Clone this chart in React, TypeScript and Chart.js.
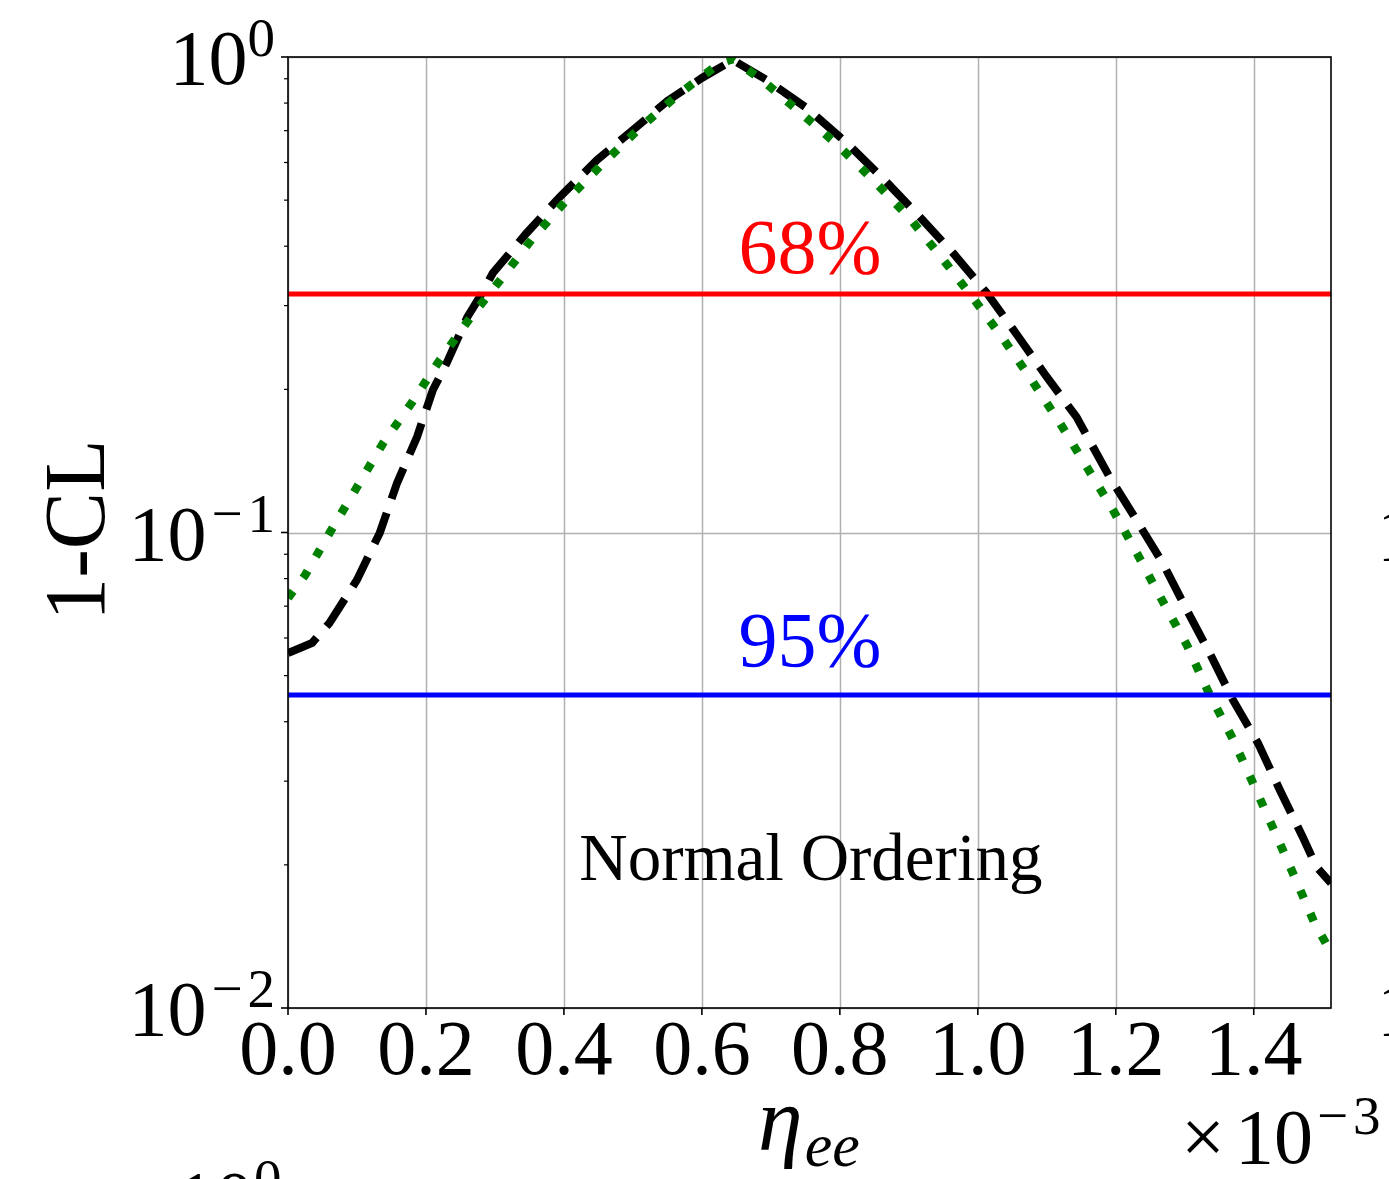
import React, { useEffect, useRef } from "react";
import { Chart, registerables } from "chart.js";

Chart.register(...registerables);

// ---- data (x in units of 1e-3) ----
const xTicks = [0.0, 0.2, 0.4, 0.6, 0.8, 1.0, 1.2, 1.4];
const xTickLabels = ["0.0", "0.2", "0.4", "0.6", "0.8", "1.0", "1.2", "1.4"];
const yMajorTicks = [0.01, 0.1, 1];
const yTickExponents = ["\u22122", "\u22121", "0"];
const yMinorMultipliers = [2, 3, 4, 5, 6, 7, 8, 9];

const blackX = [
  0, 0.035, 0.06, 0.1, 0.133, 0.158, 0.187, 0.21, 0.23, 0.26, 0.278, 0.297, 0.346, 0.394, 0.448, 0.5, 0.55,
  0.6, 0.645, 0.694, 0.752, 0.81, 0.862, 0.916, 0.964, 1.013, 1.057, 1.1, 1.143, 1.191, 1.23, 1.268, 1.303,
  1.336, 1.37, 1.406, 1.438, 1.471, 1.491, 1.512,
];
const blackY = [
  0.0558, 0.0586, 0.0645, 0.0795, 0.0998, 0.127, 0.1588, 0.1994, 0.2272, 0.2839, 0.3129, 0.3513, 0.4265,
  0.5077, 0.6073, 0.7022, 0.8084, 0.9033, 0.985, 0.8946, 0.781, 0.6595, 0.5565, 0.4608, 0.3871, 0.319, 0.2602,
  0.2124, 0.175, 0.1308, 0.1062, 0.0863, 0.0687, 0.0558, 0.0444, 0.0361, 0.0287, 0.0229, 0.0198, 0.0183,
];

const greenX = [
  0, 0.025, 0.061, 0.1, 0.138, 0.18, 0.22, 0.264, 0.31, 0.355, 0.404, 0.457, 0.51, 0.565, 0.626, 0.645, 0.687,
  0.742, 0.797, 0.851, 0.901, 0.948, 0.993, 1.036, 1.078, 1.119, 1.158, 1.196, 1.232, 1.267, 1.303, 1.333,
  1.368, 1.399, 1.428, 1.459, 1.488, 1.512,
];
const greenY = [
  0.0728, 0.0814, 0.1002, 0.1246, 0.1542, 0.188, 0.2305, 0.2826, 0.3428, 0.4163, 0.5004, 0.5985, 0.709, 0.832,
  0.971, 0.99, 0.8946, 0.766, 0.653, 0.546, 0.4585, 0.3778, 0.3113, 0.2565, 0.2093, 0.1699, 0.1373, 0.1115,
  0.0897, 0.0721, 0.058, 0.0466, 0.0372, 0.0297, 0.0239, 0.0189, 0.0151, 0.0131,
];

const cl68 = 0.3173;
const cl95 = 0.0455;
const xMin = 0;
const xMax = 1.512;
const yMin = 0.01;
const yMax = 1;

const W = 1389;
const H = 1179;
const SERIF = "'Liberation Serif', 'Times New Roman', serif";

const toPts = (xs: number[], ys: number[]) => xs.map((x, i) => ({ x, y: ys[i] }));

// draws "10" with a superscript exponent, right edge at rightX (or left edge at leftX)
function drawPow(ctx: CanvasRenderingContext2D, py: number, exp: string, rightX: number | null, leftX?: number) {
  ctx.textAlign = "left";
  ctx.font = `78px ${SERIF}`;
  const bw = ctx.measureText("10").width;
  ctx.font = `55px ${SERIF}`;
  const hasMinus = exp.startsWith("\u2212");
  const digit = hasMinus ? exp.slice(1) : exp;
  const mw = hasMinus ? ctx.measureText("\u2212").width + 5 : 0;
  const dw = ctx.measureText(digit).width;
  const gap = hasMinus ? 5 : 0;
  const total = bw + gap + mw + dw;
  const startX = leftX !== undefined ? leftX : (rightX as number) - total;
  ctx.font = `78px ${SERIF}`;
  ctx.fillText("10", startX, py + 27);
  ctx.font = `55px ${SERIF}`;
  if (hasMinus) ctx.fillText("\u2212", startX + bw + gap, py - 1);
  ctx.fillText(digit, startX + bw + gap + mw, py - 1);
}

const drawPlugin = {
  id: "mplLook",
  beforeDatasetsDraw(chart: any) {
    const { ctx, chartArea: a, scales } = chart;
    const xs = scales.x;
    const ys = scales.y;
    ctx.save();
    ctx.strokeStyle = "#b0b0b0";
    ctx.lineWidth = 1.5;
    xTicks.forEach((t) => {
      const px = Math.round(xs.getPixelForValue(t)) + 0.5;
      ctx.beginPath();
      ctx.moveTo(px, a.top);
      ctx.lineTo(px, a.bottom);
      ctx.stroke();
    });
    yMajorTicks.forEach((t) => {
      const py = Math.round(ys.getPixelForValue(t)) + 0.5;
      ctx.beginPath();
      ctx.moveTo(a.left, py);
      ctx.lineTo(a.right, py);
      ctx.stroke();
    });
    ctx.restore();
  },
  afterDatasetsDraw(chart: any) {
    const { ctx, chartArea: a, scales } = chart;
    const xs = scales.x;
    const ys = scales.y;
    ctx.save();
    // frame
    ctx.strokeStyle = "#000";
    ctx.lineWidth = 1.6;
    ctx.strokeRect(a.left, a.top, a.right - a.left, a.bottom - a.top);

    // x ticks + labels
    ctx.fillStyle = "#000";
    ctx.font = `78px ${SERIF}`;
    ctx.textAlign = "center";
    ctx.textBaseline = "alphabetic";
    xTicks.forEach((t, i) => {
      const px = xs.getPixelForValue(t);
      ctx.beginPath();
      ctx.moveTo(px, a.bottom);
      ctx.lineTo(px, a.bottom + 7);
      ctx.stroke();
      ctx.fillText(xTickLabels[i], px, a.bottom + 66);
    });

    // y ticks
    yMajorTicks.forEach((t) => {
      const py = ys.getPixelForValue(t);
      ctx.beginPath();
      ctx.moveTo(a.left - 7, py);
      ctx.lineTo(a.left, py);
      ctx.stroke();
    });
    ctx.lineWidth = 1.2;
    for (let d = 0; d < yMajorTicks.length - 1; d++) {
      yMinorMultipliers.forEach((m) => {
        const py = ys.getPixelForValue(yMajorTicks[d] * m);
        ctx.beginPath();
        ctx.moveTo(a.left - 4, py);
        ctx.lineTo(a.left, py);
        ctx.stroke();
      });
    }

    // y labels 10^k
    yMajorTicks.forEach((t, i) => {
      const py = ys.getPixelForValue(t);
      drawPow(ctx, py, yTickExponents[i], a.left - 13);
    });

    // partial labels of neighbouring panels
    ctx.font = `78px ${SERIF}`;
    ctx.textAlign = "left";
    [0.1, 0.01].forEach((t) => {
      const py = ys.getPixelForValue(t);
      ctx.fillText("10", 1377, py + 27);
    });
    drawPow(ctx, a.top + 1141, "0", null, 176);

    // y title
    ctx.save();
    ctx.translate(104, 530);
    ctx.rotate(-Math.PI / 2);
    ctx.textAlign = "center";
    ctx.font = `86px ${SERIF}`;
    ctx.fillText("1-CL", 0, 0);
    ctx.restore();

    // x title eta_ee
    ctx.textAlign = "left";
    ctx.font = `italic 90px ${SERIF}`;
    ctx.fillText("\u03b7", 758, 1150);
    const ew = ctx.measureText("\u03b7").width;
    ctx.font = `italic 62px ${SERIF}`;
    ctx.fillText("ee", 758 + ew + 2, 1166);

    // offset text x10^-3
    ctx.font = `78px ${SERIF}`;
    ctx.fillText("\u00d7", 1181, 1163);
    ctx.fillText("10", 1235, 1163);
    const tw = ctx.measureText("10").width;
    ctx.font = `55px ${SERIF}`;
    ctx.fillText("\u2212", 1235 + tw + 4, 1134);
    const mw = ctx.measureText("\u2212").width;
    ctx.fillText("3", 1235 + tw + 4 + mw + 5, 1134);

    // annotations
    const cx = xs.getPixelForValue(0.758);
    ctx.textAlign = "center";
    ctx.font = `78px ${SERIF}`;
    ctx.fillStyle = "#ff0000";
    ctx.fillText("68%", cx - 1, 273);
    ctx.fillStyle = "#0000ff";
    ctx.fillText("95%", cx - 1, 666);
    ctx.fillStyle = "#000";
    ctx.font = `67px ${SERIF}`;
    ctx.fillText("Normal Ordering", cx, 880);
    ctx.restore();
  },
};

export default function App() {
  const ref = useRef<HTMLCanvasElement | null>(null);
  useEffect(() => {
    if (!ref.current) return;
    const chart = new Chart(ref.current, {
      type: "line",
      data: {
        datasets: [
          {
            label: "68%",
            data: toPts([xMin, xMax], [cl68, cl68]),
            borderColor: "#ff0000",
            borderWidth: 5,
            pointRadius: 0,
            order: 0,
          },
          {
            label: "95%",
            data: toPts([xMin, xMax], [cl95, cl95]),
            borderColor: "#0000ff",
            borderWidth: 5,
            pointRadius: 0,
            order: 1,
          },
          {
            label: "green",
            data: toPts(greenX, greenY),
            borderColor: "#008000",
            borderWidth: 8.5,
            borderDash: [8.5, 16.5],
            borderCapStyle: "butt",
            pointRadius: 0,
            tension: 0,
            order: 2,
          },
          {
            label: "black",
            data: toPts(blackX, blackY),
            borderColor: "#000000",
            borderWidth: 8,
            borderDash: [33, 15],
            borderCapStyle: "butt",
            pointRadius: 0,
            tension: 0,
            order: 3,
          },
        ],
      },
      options: {
        animation: false,
        responsive: false,
        devicePixelRatio: 1,
        parsing: false as any,
        layout: { padding: { left: 0, top: 57, right: W - 1331, bottom: 0 } },
        plugins: { legend: { display: false }, tooltip: { enabled: false } },
        events: [],
        scales: {
          x: {
            type: "linear",
            min: xMin,
            max: xMax,
            grid: { display: false },
            border: { display: false },
            ticks: { display: false },
            afterFit: (s: any) => {
              s.height = H - 1008;
            },
          },
          y: {
            type: "logarithmic",
            min: yMin,
            max: yMax,
            grid: { display: false },
            border: { display: false },
            ticks: { display: false },
            afterFit: (s: any) => {
              s.width = 288;
            },
          },
        },
      },
      plugins: [drawPlugin],
    });
    return () => chart.destroy();
  }, []);
  return (
    <div style={{ position: "fixed", left: 0, top: 0, width: W, height: H, background: "#fff" }}>
      <canvas ref={ref} width={W} height={H} style={{ width: W, height: H, display: "block" }} />
    </div>
  );
}
